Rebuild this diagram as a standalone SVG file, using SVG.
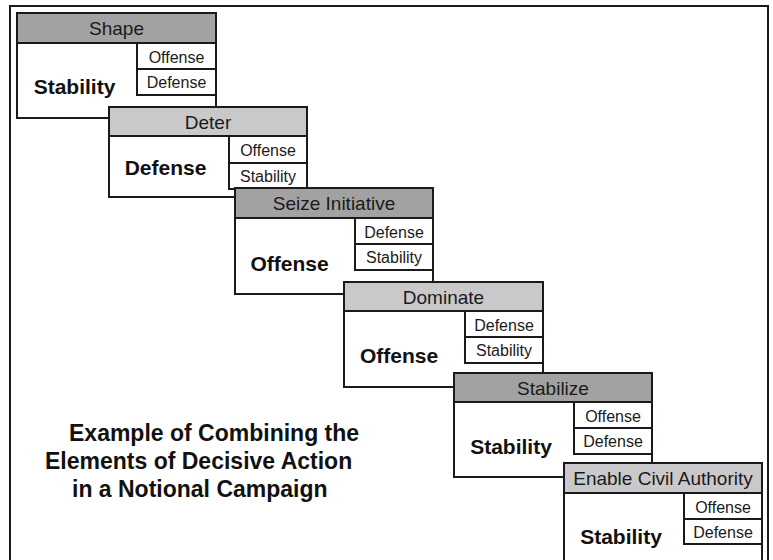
<svg xmlns="http://www.w3.org/2000/svg" width="773" height="560" viewBox="0 0 773 560">
<style>
.frame{fill:#fff;stroke:#1a1a1a;stroke-width:2}
.box{fill:#fff;stroke:#1a1a1a;stroke-width:2}
.hd{fill:#a2a2a2;stroke:#1a1a1a;stroke-width:2}
.hl{fill:#c9c9cb;stroke:#1a1a1a;stroke-width:2}
.sub{fill:#fff;stroke:#1a1a1a;stroke-width:2}
.ht{font-family:"Liberation Sans",Arial,sans-serif;font-size:19px;fill:#1a1a1a;text-anchor:middle}
.st{font-family:"Liberation Sans",Arial,sans-serif;font-size:16px;fill:#1a1a1a;text-anchor:middle}
.mt{font-family:"Liberation Sans",Arial,sans-serif;font-size:21px;font-weight:bold;fill:#111;text-anchor:middle}
.tt{font-family:"Liberation Sans",Arial,sans-serif;font-size:23px;font-weight:bold;fill:#111}
</style>
<rect class="frame" x="10" y="6" width="758" height="600"/>
<g id="connectors"/>
<g id="shape">
<rect class="box" x="17" y="13" width="199" height="105"/>
<rect class="hd" x="17" y="13" width="199" height="30"/>
<rect class="sub" x="137" y="43" width="79" height="26"/>
<rect class="sub" x="137" y="69" width="79" height="26"/>
<text class="ht" x="116.5" y="35">Shape</text>
<text class="st" x="176.5" y="62.5">Offense</text>
<text class="st" x="176.5" y="88">Defense</text>
<text class="mt" x="74.5" y="94">Stability</text>
</g>
<g id="deter">
<rect class="box" x="109" y="107" width="198" height="90"/>
<rect class="hl" x="109" y="107" width="198" height="29"/>
<rect class="sub" x="229" y="136" width="78" height="27"/>
<rect class="sub" x="229" y="163" width="78" height="26"/>
<text class="ht" x="208" y="129">Deter</text>
<text class="st" x="268" y="156">Offense</text>
<text class="st" x="268" y="182">Stability</text>
<text class="mt" x="165.5" y="175">Defense</text>
</g>
<g id="seize-initiative">
<rect class="box" x="235" y="188" width="198" height="106"/>
<rect class="hd" x="235" y="188" width="198" height="30"/>
<rect class="sub" x="355" y="218" width="78" height="26"/>
<rect class="sub" x="355" y="244" width="78" height="26"/>
<text class="ht" x="334" y="210">Seize Initiative</text>
<text class="st" x="394" y="237.5">Defense</text>
<text class="st" x="394" y="263">Stability</text>
<text class="mt" x="289.5" y="271">Offense</text>
</g>
<g id="dominate">
<rect class="box" x="344" y="282" width="199" height="105"/>
<rect class="hl" x="344" y="282" width="199" height="29"/>
<rect class="sub" x="465" y="311" width="78" height="26"/>
<rect class="sub" x="465" y="337" width="78" height="26"/>
<text class="ht" x="443.5" y="304">Dominate</text>
<text class="st" x="504" y="330.5">Defense</text>
<text class="st" x="504" y="356">Stability</text>
<text class="mt" x="399" y="363">Offense</text>
</g>
<g id="stabilize">
<rect class="box" x="454" y="373" width="198" height="104"/>
<rect class="hd" x="454" y="373" width="198" height="29"/>
<rect class="sub" x="574" y="402" width="78" height="26"/>
<rect class="sub" x="574" y="428" width="78" height="26"/>
<text class="ht" x="553" y="395">Stabilize</text>
<text class="st" x="613" y="421.5">Offense</text>
<text class="st" x="613" y="447">Defense</text>
<text class="mt" x="511" y="454">Stability</text>
</g>
<g id="enable-civil-authority">
<rect class="box" x="564" y="463" width="198" height="120"/>
<rect class="hl" x="564" y="463" width="198" height="30"/>
<rect class="sub" x="684" y="493" width="78" height="26"/>
<rect class="sub" x="684" y="519" width="78" height="25"/>
<text class="ht" x="663" y="485">Enable Civil Authority</text>
<text class="st" x="723" y="512.5">Offense</text>
<text class="st" x="723" y="537.5">Defense</text>
<text class="mt" x="621" y="544">Stability</text>
</g>
<g id="title">
<text class="tt" x="69" y="441">Example of Combining the</text>
<text class="tt" x="45" y="469">Elements of Decisive Action</text>
<text class="tt" x="72" y="497">in a Notional Campaign</text>
</g>
</svg>
